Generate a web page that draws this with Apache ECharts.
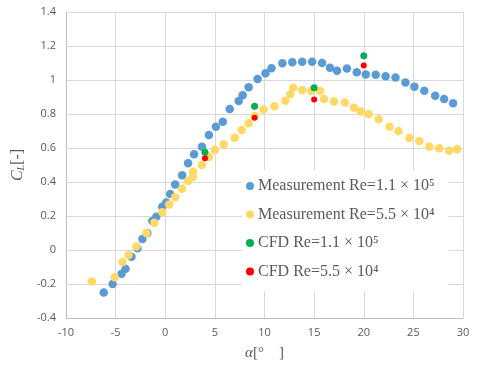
<!DOCTYPE html>
<html>
<head>
<meta charset="utf-8">
<script src="https://cdn.jsdelivr.net/npm/echarts@6/dist/echarts.min.js"></script>
<style>html,body{margin:0;padding:0;background:#fff;}#c{width:479px;height:367px;}</style>
</head>
<body>
<div id="c"></div>
<script>
// Measurement Re=1.1e5 (alpha, CL)
const measHighAlpha = [-6.2,-5.3,-4.4,-4.0,-3.4,-2.8,-2.3,-1.8,-1.3,-0.9,-0.3,0.1,0.5,1.0,1.7,2.3,2.9,3.7,4.4,5.1,5.8,6.5,7.4,7.8,8.4,9.3,10.1,10.7,11.8,12.8,13.8,14.8,15.8,16.6,17.3,18.3,19.3,20.2,21.2,22.2,23.2,24.2,25.1,26.1,27.2,28.1,29.0];
const measHighCL    = [-0.25,-0.20,-0.14,-0.11,-0.04,0.01,0.065,0.10,0.17,0.195,0.255,0.28,0.33,0.385,0.44,0.51,0.563,0.608,0.676,0.725,0.755,0.83,0.876,0.91,0.957,1.006,1.04,1.069,1.098,1.104,1.108,1.108,1.10,1.072,1.055,1.067,1.045,1.033,1.031,1.022,1.015,0.985,0.961,0.937,0.908,0.888,0.863];
// Measurement Re=5.5e4
const measLowAlpha = [-7.4,-5.1,-4.3,-3.7,-2.9,-1.9,-1.1,-0.3,0.4,1.0,1.7,2.3,2.8,2.8,3.7,4.4,5.0,5.9,7.0,7.7,8.4,9.0,9.9,11.0,12.1,12.6,12.9,13.8,14.7,15.6,16.0,17.0,18.1,19.0,19.7,20.5,21.5,22.6,23.5,24.6,25.6,26.6,27.6,28.6,29.4];
const measLowCL    = [-0.185,-0.16,-0.07,-0.03,0.02,0.10,0.16,0.222,0.268,0.31,0.36,0.406,0.43,0.46,0.50,0.547,0.588,0.622,0.66,0.706,0.745,0.788,0.827,0.845,0.878,0.916,0.955,0.941,0.935,0.935,0.888,0.873,0.867,0.837,0.814,0.80,0.769,0.725,0.70,0.659,0.641,0.608,0.598,0.584,0.592];
// CFD
const cfdAlpha = [4, 9, 15, 20];
const cfdHighCL = [0.575, 0.845, 0.955, 1.143];
const cfdLowCL  = [0.54, 0.778, 0.886, 1.086];
// axis ticks
const xMin = -10, xMax = 30, xStep = 5;
const yMin = -0.4, yMax = 1.4, yStep = 0.2;
const seriesNames = ['Measurement Re=1.1 × 10⁵','Measurement Re=5.5 × 10⁴','CFD Re=1.1 × 10⁵','CFD Re=5.5 × 10⁴'];

const zip = (a, b) => a.map((v, i) => [v, b[i]]);
const chart = echarts.init(document.getElementById('c'), null, {renderer: 'canvas'});
const gray = '#595959';
chart.setOption({
  animation: false,
  backgroundColor: '#fff',
  grid: {left: 66, top: 12, right: 16, bottom: 49, containLabel: false},
  xAxis: {
    type: 'value', min: xMin, max: xMax, interval: xStep,
    axisLine: {show: true, onZero: false, lineStyle: {color: '#bfbfbf', width: 1}},
    axisTick: {show: false},
    splitLine: {show: true, lineStyle: {color: '#d9d9d9', width: 1}},
    axisLabel: {color: gray, fontSize: 11, fontFamily: 'Open Sans', margin: 9},
    name: '{i|α}{n|[°　]}', nameLocation: 'middle', nameGap: 28,
    nameTextStyle: {rich: {i: {fontFamily: 'Liberation Serif', fontStyle: 'italic', fontSize: 15, color: gray}, n: {fontFamily: 'Liberation Serif', fontSize: 15, color: gray}}}
  },
  yAxis: {
    type: 'value', min: yMin, max: yMax, interval: yStep,
    axisLine: {show: true, onZero: false, lineStyle: {color: '#bfbfbf', width: 1}},
    axisTick: {show: false},
    splitLine: {show: true, lineStyle: {color: '#d9d9d9', width: 1}},
    axisLabel: {color: gray, fontSize: 11, fontFamily: 'Open Sans', margin: 10,
      formatter: v => String(Math.round(v * 10) / 10)},
    name: '{i|C}{s|L}{n|[-]}', nameLocation: 'middle', nameGap: 36, nameRotate: 90,
    nameTextStyle: {rich: {i: {fontFamily: 'Liberation Serif', fontStyle: 'italic', fontSize: 16, color: gray}, s: {fontFamily: 'Liberation Serif', fontStyle: 'italic', fontSize: 10, color: gray, padding: [6, 0, 0, 0]}, n: {fontFamily: 'Liberation Serif', fontSize: 16, color: gray}}}
  },
  legend: {
    orient: 'vertical', left: 242, top: 170,
    backgroundColor: '#fff',
    padding: [8, 14, 12, 4],
    itemGap: 12.5, itemWidth: 8, itemHeight: 8, icon: 'circle',
    textStyle: {color: gray, fontFamily: 'Liberation Serif', fontSize: 16, padding: [0, 0, 0, -1]},
    data: seriesNames
  },
  series: [
    {name: seriesNames[0], type: 'scatter', symbolSize: 8.5, itemStyle: {color: '#5B9BD5', opacity: 1}, data: zip(measHighAlpha, measHighCL), z: 2},
    {name: seriesNames[1], type: 'scatter', symbolSize: 8.5, itemStyle: {color: '#FFD966', opacity: 1}, data: zip(measLowAlpha, measLowCL), z: 2},
    {name: seriesNames[2], type: 'scatter', symbolSize: 7, itemStyle: {color: '#00B050', opacity: 1}, data: zip(cfdAlpha, cfdHighCL), z: 3},
    {name: seriesNames[3], type: 'scatter', symbolSize: 6, itemStyle: {color: '#FF0000', opacity: 1}, data: zip(cfdAlpha, cfdLowCL), z: 3}
  ]
});
</script>
</body>
</html>
